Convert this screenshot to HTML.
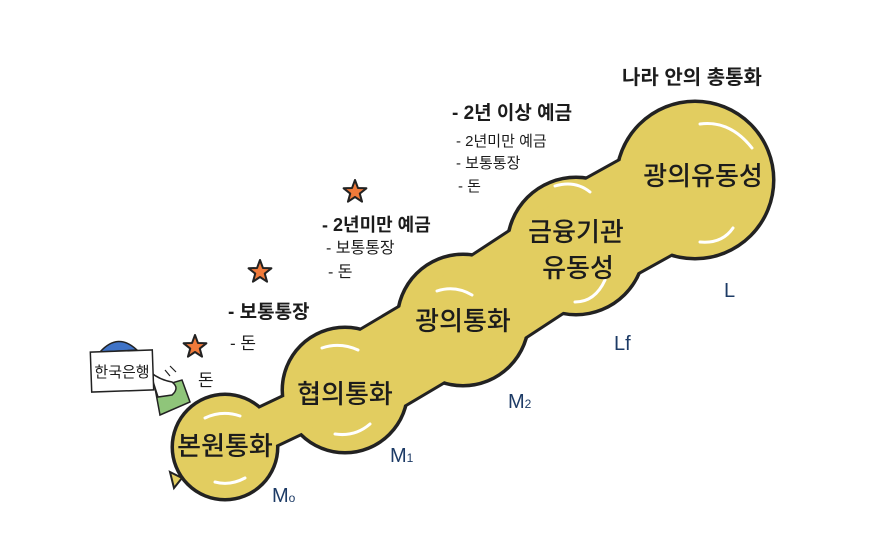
<!DOCTYPE html>
<html><head><meta charset="utf-8"><style>
html,body{margin:0;padding:0;background:#fff}
svg{display:block}
text{font-family:"Liberation Sans","Noto Sans CJK KR","NanumGothic",sans-serif;fill:#1c1c1c}
.b{font-size:26px;font-weight:500}
.m{fill:#1d3b66;font-size:20px}
</style></head><body>
<svg width="886" height="537" viewBox="0 0 886 537" xmlns="http://www.w3.org/2000/svg">
<defs>
<path id="st" d="M0,-12 L2.94,-4.05 L11.4,-3.7 L4.76,1.55 L7.05,9.7 L0,5 L-7.05,9.7 L-4.76,1.55 L-11.4,-3.7 L-2.94,-4.05Z" fill="#f07a3a" stroke="#222" stroke-width="2" stroke-linejoin="round"/>
</defs>
<path d="M170,472 L182,478 L174,488Z" fill="#e2cd60" stroke="#222" stroke-width="2"/>
<g fill="#222" stroke="#222" stroke-linecap="butt">
<circle cx="225" cy="447" r="54"/>
<circle cx="345" cy="390" r="64"/>
<circle cx="463" cy="320" r="67"/>
<circle cx="576" cy="246" r="70"/>
<circle cx="695" cy="180" r="80"/>
<line x1="225" y1="447" x2="345" y2="390" stroke-width="46"/>
<line x1="345" y1="390" x2="463" y2="320" stroke-width="92"/>
<line x1="463" y1="320" x2="576" y2="246" stroke-width="102"/>
<line x1="576" y1="246" x2="695" y2="180" stroke-width="112"/>
</g>
<g fill="#e2cd60" stroke="#e2cd60" stroke-linecap="butt">
<circle cx="225" cy="447" r="51" stroke="none"/>
<circle cx="345" cy="390" r="61" stroke="none"/>
<circle cx="463" cy="320" r="64" stroke="none"/>
<circle cx="576" cy="246" r="67" stroke="none"/>
<circle cx="695" cy="180" r="77" stroke="none"/>
<line x1="225" y1="447" x2="345" y2="390" stroke-width="40"/>
<line x1="345" y1="390" x2="463" y2="320" stroke-width="86"/>
<line x1="463" y1="320" x2="576" y2="246" stroke-width="96"/>
<line x1="576" y1="246" x2="695" y2="180" stroke-width="106"/>
</g>
<g fill="none" stroke="#fff" stroke-width="3" stroke-linecap="round">
<path d="M205,418 Q222,410 240,416"/>
<path d="M215,482 Q230,486 245,478"/>
<path d="M322,348 Q340,342 358,350"/>
<path d="M335,434 Q355,437 370,424"/>
<path d="M437,291 Q455,285 472,295"/>
<path d="M555,186 Q575,180 590,192"/>
<path d="M575,302 Q595,302 605,280"/>
<path d="M700,124 Q730,120 752,148"/>
<path d="M700,242 Q722,244 733,228"/>
</g>
<text class="b" x="225" y="455" text-anchor="middle">본원통화</text>
<text class="b" x="345" y="403" text-anchor="middle">협의통화</text>
<text class="b" x="463" y="330" text-anchor="middle">광의통화</text>
<text class="b" x="576" y="241" text-anchor="middle">금융기관</text>
<text class="b" x="578" y="277" text-anchor="middle">유동성</text>
<text class="b" x="703" y="185" text-anchor="middle">광의유동성</text>
<text class="m" x="272" y="502">M<tspan font-size="12">o</tspan></text>
<text class="m" x="390" y="462">M<tspan font-size="12">1</tspan></text>
<text class="m" x="508" y="408">M<tspan font-size="12">2</tspan></text>
<text class="m" x="614" y="350">Lf</text>
<text class="m" x="724" y="297">L</text>
<text x="622" y="84" font-size="20" font-weight="bold">나라 안의 총통화</text>
<text x="452" y="119" font-size="19" font-weight="bold">- 2년 이상 예금</text>
<text x="456" y="146" font-size="15">- 2년미만 예금</text>
<text x="456" y="168" font-size="15">- 보통통장</text>
<text x="458" y="191" font-size="15">- 돈</text>
<text x="322" y="231" font-size="18" font-weight="bold">- 2년미만 예금</text>
<text x="326" y="253" font-size="16">- 보통통장</text>
<text x="328" y="277" font-size="16">- 돈</text>
<text x="228" y="318" font-size="19" font-weight="bold">- 보통통장</text>
<text x="230" y="349" font-size="17">- 돈</text>
<text x="198" y="386" font-size="17">돈</text>
<use href="#st" x="355" y="192"/>
<use href="#st" x="260" y="272"/>
<use href="#st" x="195" y="347"/>
<path d="M100,352 Q118,332 137,350Z" fill="#3f73c7" stroke="#222" stroke-width="1.5"/>
<path d="M155,388 L182,380 L190,402 L160,415Z" fill="#8fc57a" stroke="#222" stroke-width="1.5"/>
<path d="M150,372 Q160,380 172,382 Q180,388 172,395 L158,397 Z" fill="#fff" stroke="#222" stroke-width="1.5"/>
<rect x="91" y="351" width="62" height="40" fill="#fff" stroke="#222" stroke-width="1.5" transform="rotate(-2 122 371)"/>
<text x="122" y="377" font-size="15" text-anchor="middle">한국은행</text>
<path d="M165,370 L170,376 M170,366 L176,372" stroke="#222" stroke-width="1.2"/>
</svg>
</body></html>
